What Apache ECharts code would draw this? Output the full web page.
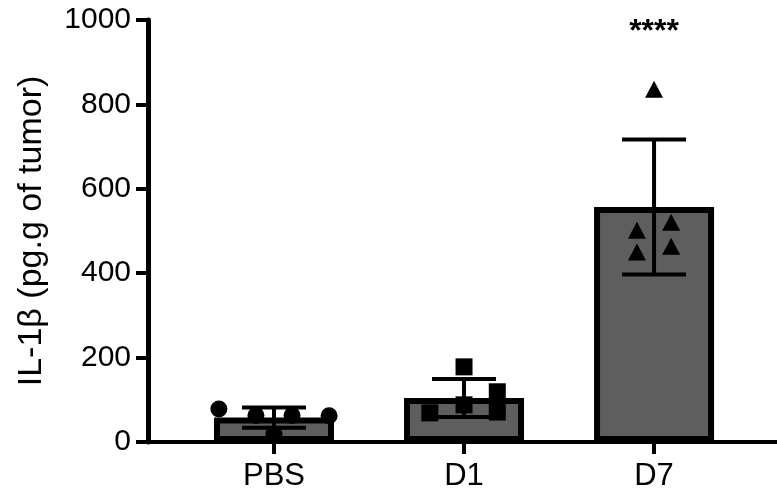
<!DOCTYPE html>
<html>
<head>
<meta charset="utf-8">
<script src="https://cdn.jsdelivr.net/npm/echarts@6/dist/echarts.min.js"></script>
<style>
    html, body { margin: 0; padding: 0; background: #fff; }
    #chart { width: 777px; height: 494px; }
</style>
</head>
<body>
<div id="chart"></div>
<script>
// groups and summary values (mean +/- SD)
const categories = ["PBS", "D1", "D7"];
const means = [58, 104, 557];
const sds = [24, 45, 160];
const stars = ["", "", "****"];

// individual animals per group, with horizontal jitter (in category units)
const pbsValues = [78, 63, 19, 63, 62];
const pbsJitter = [-0.29, -0.095, 0, 0.095, 0.29];
const d1Values = [69, 178, 88, 119, 71];
const d1Jitter = [-0.18, 0, 0, 0.175, 0.175];
const d7Values = [836, 502, 450, 521, 464];
const d7Jitter = [0, -0.09, -0.09, 0.09, 0.09];

const yTicks = [0, 200, 400, 600, 800, 1000];

const font = "Liberation Sans, Arial, sans-serif";
const myChart = echarts.init(document.getElementById("chart"));

function points(groupIndex, values, jitter) {
    return values.map((v, i) => [groupIndex + jitter[i], v]);
}

const option = {
    animation: false,
    backgroundColor: "#fff",
    grid: { left: 148, right: 0, top: 20, bottom: 52 },
    xAxis: {
        type: "value",
        min: -0.663,
        max: 2.647,
        splitLine: { show: false },
        axisLine: { onZero: false, lineStyle: { color: "#000", width: 4 } },
        axisTick: {
            customValues: [0, 1, 2],
            length: 12,
            lineStyle: { color: "#000", width: 4 },
        },
        axisLabel: {
            customValues: [0, 1, 2],
            formatter: (v) => categories[Math.round(v)],
            color: "#000",
            fontFamily: font,
            fontSize: 31,
            margin: 19,
        },
    },
    yAxis: {
        type: "value",
        min: yTicks[0],
        max: yTicks[yTicks.length - 1],
        interval: 200,
        name: "IL-1β (pg.g of tumor)",
        nameLocation: "middle",
        nameGap: 99,
        nameTextStyle: { color: "#000", fontFamily: font, fontSize: 34 },
        splitLine: { show: false },
        axisLine: { show: true, onZero: false, lineStyle: { color: "#000", width: 5 } },
        axisTick: { show: true, length: 12, lineStyle: { color: "#000", width: 4 } },
        axisLabel: {
            color: "#000",
            fontFamily: font,
            fontSize: 30,
            margin: 17,
            formatter: (v) => String(v),
        },
    },
    series: [
        {
            type: "bar",
            barWidth: 120,
            data: means.map((m, i) => [i, m]),
            itemStyle: { color: "#5e5e5e", borderColor: "#000", borderWidth: 6 },
            z: 2,
        },
        {
            // error bars: mean +/- SD with caps
            type: "custom",
            data: means.map((m, i) => [i, m, sds[i]]),
            renderItem: (params, api) => {
                const x = api.value(0);
                const m = api.value(1);
                const sd = api.value(2);
                const top = api.coord([x, m + sd]);
                const bot = api.coord([x, m - sd]);
                const half = 32;
                const style = { stroke: "#000", lineWidth: 4 };
                return {
                    type: "group",
                    children: [
                        { type: "line", shape: { x1: top[0], y1: top[1], x2: bot[0], y2: bot[1] }, style },
                        { type: "line", shape: { x1: top[0] - half, y1: top[1], x2: top[0] + half, y2: top[1] }, style },
                        { type: "line", shape: { x1: bot[0] - half, y1: bot[1], x2: bot[0] + half, y2: bot[1] }, style },
                    ],
                };
            },
            z: 3,
        },
        {
            // significance stars above the group
            type: "custom",
            data: stars.map((s, i) => [i, 972]),
            renderItem: (params, api) => {
                const p = api.coord([api.value(0), api.value(1)]);
                return {
                    type: "text",
                    x: p[0],
                    y: p[1],
                    style: {
                        text: stars[params.dataIndex],
                        font: "bold 32px " + font,
                        fill: "#000",
                        align: "center",
                        verticalAlign: "middle",
                    },
                };
            },
            z: 4,
        },
        {
            type: "scatter",
            symbol: "circle",
            symbolSize: 17,
            data: points(0, pbsValues, pbsJitter),
            itemStyle: { color: "#000", opacity: 1 },
            z: 5,
        },
        {
            type: "scatter",
            symbol: "rect",
            symbolSize: 17,
            data: points(1, d1Values, d1Jitter),
            itemStyle: { color: "#000", opacity: 1 },
            z: 5,
        },
        {
            type: "scatter",
            symbol: "triangle",
            symbolSize: [18, 17],
            data: points(2, d7Values, d7Jitter),
            itemStyle: { color: "#000", opacity: 1 },
            z: 5,
        },
    ],
};

myChart.setOption(option);
</script>
</body>
</html>
